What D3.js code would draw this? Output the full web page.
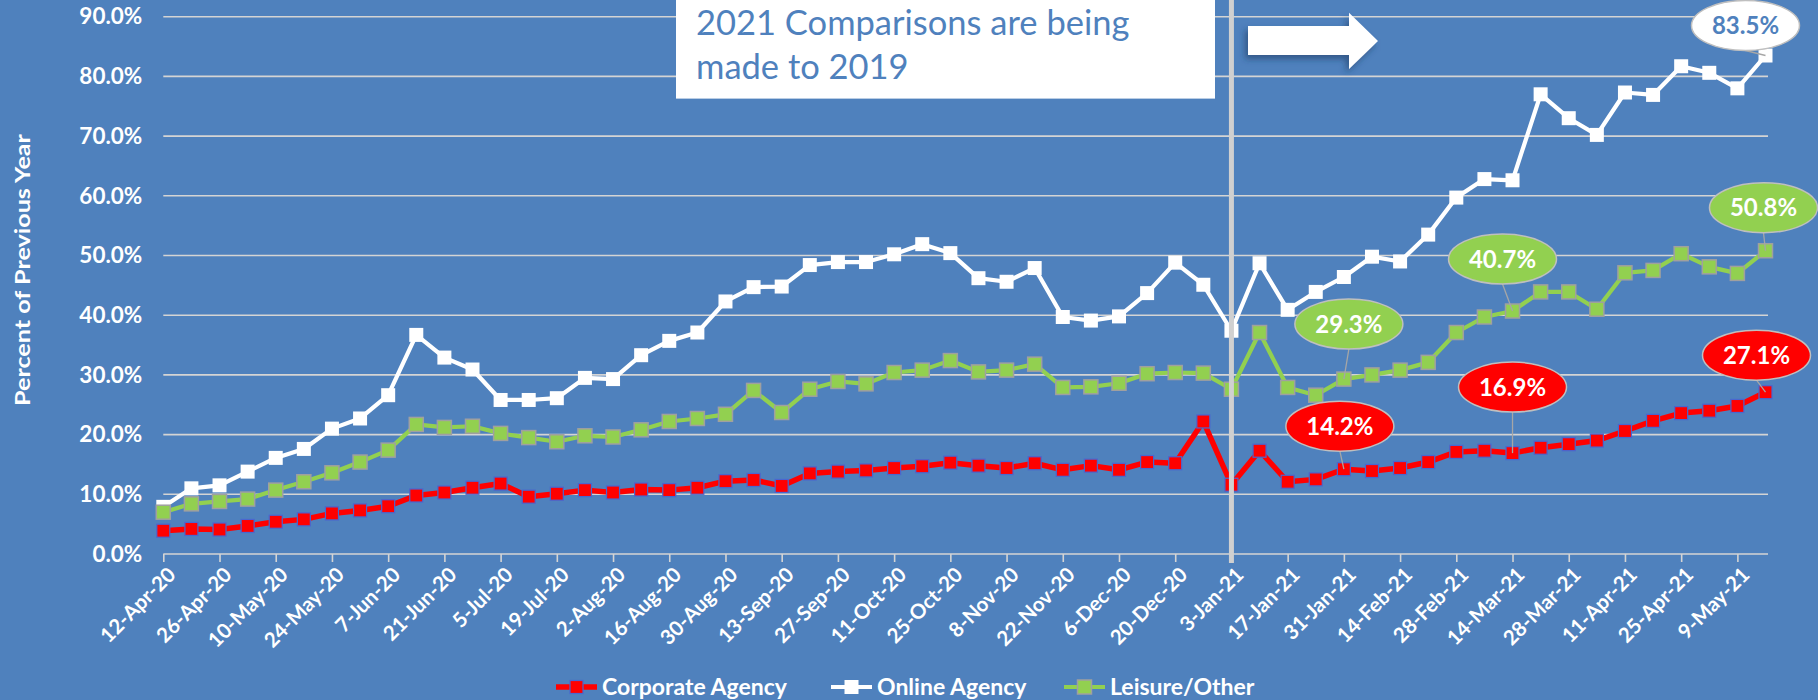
<!DOCTYPE html>
<html><head><meta charset="utf-8">
<script src="https://cdn.jsdelivr.net/npm/d3@7"></script>
<style>
html,body{margin:0;padding:0;background:#4f81bd;}
svg{display:block;}
text{font-family:Lato,"Open Sans",sans-serif;}
</style></head><body>
<svg id="chart" width="1818" height="700"></svg>
<script>
// ---------- DATA ----------
const categories = ["12-Apr-20","19-Apr-20","26-Apr-20","3-May-20","10-May-20","17-May-20","24-May-20","31-May-20","7-Jun-20","14-Jun-20","21-Jun-20","28-Jun-20","5-Jul-20","12-Jul-20","19-Jul-20","26-Jul-20","2-Aug-20","9-Aug-20","16-Aug-20","23-Aug-20","30-Aug-20","6-Sep-20","13-Sep-20","20-Sep-20","27-Sep-20","4-Oct-20","11-Oct-20","18-Oct-20","25-Oct-20","1-Nov-20","8-Nov-20","15-Nov-20","22-Nov-20","29-Nov-20","6-Dec-20","13-Dec-20","20-Dec-20","27-Dec-20","3-Jan-21","10-Jan-21","17-Jan-21","24-Jan-21","31-Jan-21","7-Feb-21","14-Feb-21","21-Feb-21","28-Feb-21","7-Mar-21","14-Mar-21","21-Mar-21","28-Mar-21","4-Apr-21","11-Apr-21","18-Apr-21","25-Apr-21","2-May-21","9-May-21","16-May-21"];
const tickLabels = ["12-Apr-20","26-Apr-20","10-May-20","24-May-20","7-Jun-20","21-Jun-20","5-Jul-20","19-Jul-20","2-Aug-20","16-Aug-20","30-Aug-20","13-Sep-20","27-Sep-20","11-Oct-20","25-Oct-20","8-Nov-20","22-Nov-20","6-Dec-20","20-Dec-20","3-Jan-21","17-Jan-21","31-Jan-21","14-Feb-21","28-Feb-21","14-Mar-21","28-Mar-21","11-Apr-21","25-Apr-21","9-May-21"];
const corporateAgency = [3.9,4.2,4.1,4.7,5.4,5.8,6.8,7.3,8.0,9.8,10.3,11.1,11.8,9.6,10.1,10.7,10.3,10.8,10.7,11.1,12.2,12.4,11.4,13.5,13.8,14.0,14.4,14.7,15.3,14.8,14.4,15.2,14.1,14.8,14.1,15.4,15.2,22.2,11.6,17.3,12.1,12.5,14.2,13.9,14.4,15.4,17.1,17.3,16.9,17.8,18.4,19.0,20.6,22.3,23.6,24.0,24.8,27.1];
const onlineAgency = [7.9,11.0,11.5,13.8,16.1,17.6,21.0,22.7,26.6,36.7,32.9,30.9,25.8,25.8,26.1,29.5,29.3,33.3,35.7,37.1,42.3,44.7,44.8,48.4,48.9,48.9,50.2,51.9,50.4,46.2,45.6,47.9,39.7,39.1,39.8,43.7,48.8,45.1,37.4,48.7,40.9,43.9,46.4,49.8,49.0,53.5,59.7,62.8,62.6,77.0,73.0,70.2,77.3,76.9,81.7,80.6,78.0,83.5];
const leisureOther = [7.0,8.4,8.8,9.2,10.7,12.1,13.6,15.4,17.4,21.7,21.2,21.4,20.2,19.5,18.8,19.8,19.6,20.8,22.2,22.7,23.4,27.4,23.7,27.6,28.9,28.5,30.4,30.8,32.4,30.5,30.8,31.8,27.9,28.0,28.6,30.2,30.4,30.3,27.6,37.1,27.9,26.6,29.3,30.0,30.8,32.1,37.1,39.7,40.7,43.9,43.9,41.0,47.1,47.5,50.3,48.1,47.0,50.8];
const seriesNames = ["Corporate Agency","Online Agency","Leisure/Other"];
const yTickValues = [0,10,20,30,40,50,60,70,80,90];
const yAxisTitle = "Percent of Previous Year";
const noteLines = ["2021 Comparisons are being","made to 2019"];
const dividerCategory = "3-Jan-21";
// callouts: series index, category
const calloutSeries = [0,0,0,2,2,2,1];
const calloutCategories = ["31-Jan-21","14-Mar-21","16-May-21","31-Jan-21","14-Mar-21","16-May-21","16-May-21"];

// ---------- LAYOUT / STYLE ----------
const W = 1818, H = 700;
const svg = d3.select("#chart");
const bg = "#4f81bd";
svg.append("rect").attr("width", W).attr("height", H).attr("fill", bg);

const x = d3.scalePoint().domain(categories).range([163.3, 1765.5]);
const y = d3.scaleLinear().domain([0, 90]).range([554, 16.7]);
const plotRight = 1768;
const gridColor = "#d4d4d4";

const defs = svg.append("defs");
const f = defs.append("filter").attr("id","shadow").attr("x","-20%").attr("y","-30%").attr("width","150%").attr("height","180%");
f.append("feDropShadow").attr("dx",-3).attr("dy",4).attr("stdDeviation",3).attr("flood-color","#1f3a66").attr("flood-opacity",0.6);

// gridlines
svg.append("g").selectAll("line").data(yTickValues.filter(d => d > 0)).join("line")
  .attr("x1", x.range()[0]).attr("x2", plotRight)
  .attr("y1", d => y(d)).attr("y2", d => y(d))
  .attr("stroke", gridColor).attr("stroke-width", 1.6);

// x axis
const xAxis = d3.axisBottom(x).tickValues(tickLabels).tickSize(8).tickSizeOuter(0).tickFormat(d => d);
const gx = svg.append("g").attr("transform", `translate(0,${y(0)})`).call(xAxis);
gx.select(".domain").attr("stroke", gridColor).attr("stroke-width", 1.6).attr("d", `M${x.range()[0]},0H${plotRight}`);
gx.selectAll(".tick line").attr("stroke", gridColor).attr("stroke-width", 1.6);
gx.selectAll(".tick text")
  .attr("fill", "#fff").attr("font-size", 20.5).attr("font-weight", 700)
  .attr("text-anchor", "end").attr("y", 0).attr("dy", 0)
  .attr("transform", "translate(13,22) rotate(-45)");

// y axis
const yAxis = d3.axisLeft(y).tickValues(yTickValues).tickSize(0).tickPadding(21).tickFormat(d => d.toFixed(1) + "%");
const gy = svg.append("g").attr("transform", `translate(${x.range()[0]},0)`).call(yAxis);
gy.select(".domain").remove();
gy.selectAll(".tick text").attr("fill", "#fff").attr("font-size", 22.5).attr("font-weight", 700);

// y title
svg.append("text").attr("transform", "translate(23,270) rotate(-90)")
  .attr("text-anchor", "middle").attr("dy", "0.35em")
  .attr("fill", "#fff").attr("font-size", 21).attr("font-weight", 700)
  .attr("textLength", 272).attr("lengthAdjust", "spacingAndGlyphs").text(yAxisTitle);

// series
const seriesData = [corporateAgency, onlineAgency, leisureOther];
const styles = [
  {line: "#ff0000", width: 5.5, fill: "#ff0000", stroke: "#4a66d0", sw: 1.2, size: 13},
  {line: "#ffffff", width: 4.2, fill: "#ffffff", stroke: "#ffffff", sw: 0, size: 14},
  {line: "#92d050", width: 4.2, fill: "#92d050", stroke: "#a0a0a0", sw: 1.5, size: 14}
];
const line = d3.line().x((d, i) => x(categories[i])).y(d => y(d));
seriesData.forEach((vals, s) => {
  const st = styles[s];
  const g = svg.append("g");
  g.append("path").attr("d", line(vals)).attr("fill", "none")
    .attr("stroke", st.line).attr("stroke-width", st.width).attr("stroke-linejoin", "round");
  g.selectAll("rect").data(vals).join("rect")
    .attr("x", (d, i) => x(categories[i]) - st.size / 2)
    .attr("y", d => y(d) - st.size / 2)
    .attr("width", st.size).attr("height", st.size)
    .attr("fill", st.fill).attr("stroke", st.stroke).attr("stroke-width", st.sw);
});

// divider
svg.append("line").attr("x1", x(dividerCategory)).attr("x2", x(dividerCategory))
  .attr("y1", 0).attr("y2", 563).attr("stroke", "#d0d0d0").attr("stroke-width", 5);

// note box
svg.append("rect").attr("x", 676).attr("y", -2).attr("width", 539).attr("height", 100.6).attr("fill", "#fff");
svg.append("g").selectAll("text").data(noteLines).join("text")
  .attr("x", 696).attr("y", (d, i) => 35 + i * 44)
  .attr("fill", "#4f81bd").attr("font-size", 34.5).text(d => d);

// arrow
svg.append("polygon")
  .attr("points", "1248,26 1349,26 1349,12.7 1378,41 1349,69 1349,55 1248,55")
  .attr("fill", "#fff").attr("filter", "url(#shadow)");

// callouts
const calloutOffsets = [[-4,-43],[0,-66],[-9,-37],[5,-55],[-10,-52],[-2,-43],[-20,-30]];
const calloutFill = ["#ff0000", "#ffffff", "#92d050"];
const calloutText = ["#ffffff", "#4f81bd", "#ffffff"];
const fmt = d3.format(".1f");
calloutSeries.forEach((s, k) => {
  const cat = calloutCategories[k];
  const v = seriesData[s][categories.indexOf(cat)];
  const px = x(cat), py = y(v);
  const cx = px + calloutOffsets[k][0], cy = py + calloutOffsets[k][1];
  const rx = 54, ry = 25;
  svg.append("line").attr("x1", cx).attr("y1", cy + ry).attr("x2", px).attr("y2", py)
    .attr("stroke", "#a6a6a6").attr("stroke-width", 1.3);
  svg.append("ellipse").attr("cx", cx).attr("cy", cy).attr("rx", rx).attr("ry", ry)
    .attr("fill", calloutFill[s]).attr("stroke", "#bfbfbf").attr("stroke-width", 1.5);
  svg.append("text").attr("x", cx).attr("y", cy).attr("dy", "0.36em").attr("text-anchor", "middle")
    .attr("fill", calloutText[s]).attr("font-size", 24).attr("font-weight", 700)
    .text(fmt(v) + "%");
});

// legend
const legendX = [556, 831, 1064];
const legendY = 687;
seriesNames.forEach((name, s) => {
  const st = styles[s];
  const g = svg.append("g").attr("transform", `translate(${legendX[s]},${legendY})`);
  g.append("line").attr("x1", 0).attr("x2", 41).attr("y1", 0).attr("y2", 0)
    .attr("stroke", st.line).attr("stroke-width", st.width);
  g.append("rect").attr("x", 20.5 - st.size / 2).attr("y", -st.size / 2).attr("width", st.size).attr("height", st.size)
    .attr("fill", st.fill).attr("stroke", st.stroke).attr("stroke-width", st.sw);
  g.append("text").attr("x", 46).attr("dy", "0.36em").attr("fill", "#fff")
    .attr("font-size", 23).attr("font-weight", 700).text(name);
});
</script>
</body></html>
